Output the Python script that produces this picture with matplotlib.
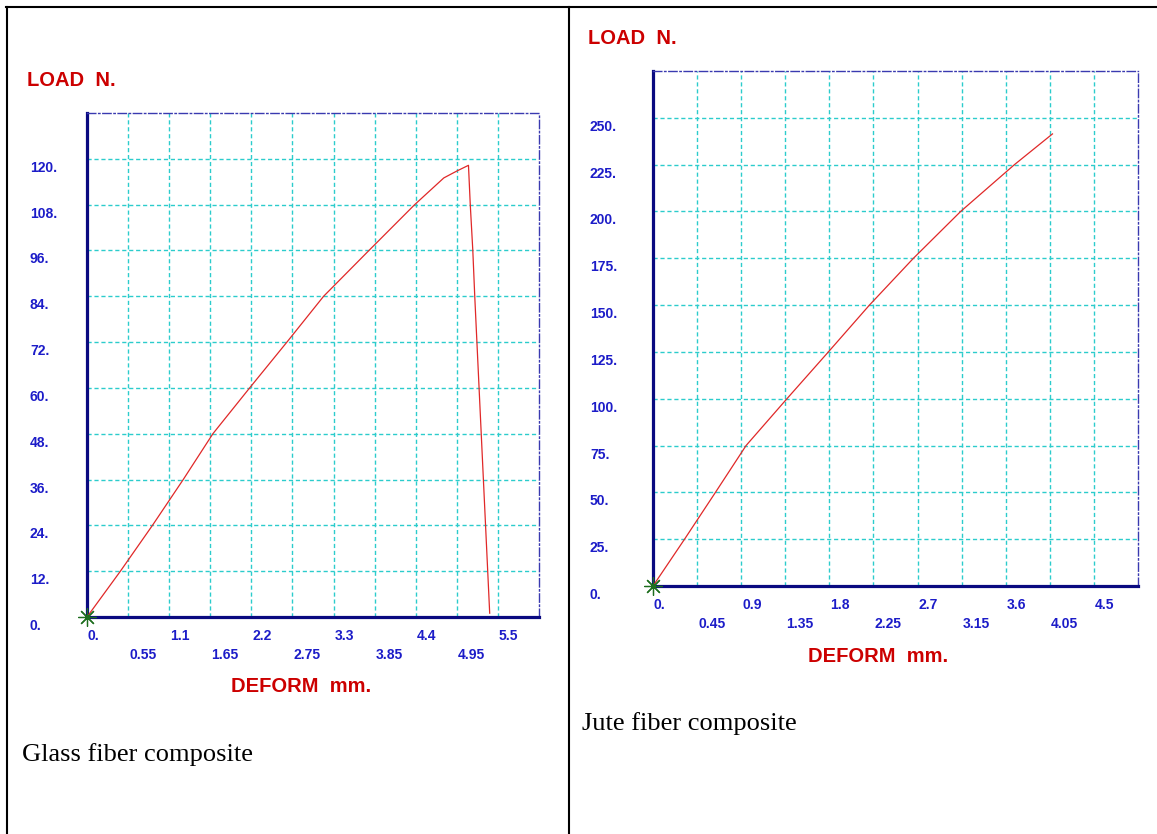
import matplotlib.pyplot as plt
from matplotlib.lines import Line2D

# glass fibre composite: load vs deformation
glass_deform = [0, 0.447, 0.876, 1.288, 1.685, 2.177, 2.676, 3.167, 3.774,
                4.386, 4.776, 4.95, 5.106, 5.13, 5.164, 5.19, 5.39]
glass_load = [0, 12, 24, 36, 48, 60, 72, 84, 96,
              108, 115.0, 116.8, 118.3, 108, 96, 84, 1]
glass_xticks = [0, 0.55, 1.1, 1.65, 2.2, 2.75, 3.3, 3.85, 4.4, 4.95, 5.5]
glass_xlabels = ["0.", "0.55", "1.1", "1.65", "2.2", "2.75", "3.3", "3.85", "4.4", "4.95", "5.5"]
glass_yticks = [0, 12, 24, 36, 48, 60, 72, 84, 96, 108, 120]
glass_ylabels = ["0.", "12.", "24.", "36.", "48.", "60.", "72.", "84.", "96.", "108.", "120."]

# jute fibre composite
jute_deform = [0, 0.322, 0.6375, 0.95, 1.367, 1.79, 2.209, 2.658, 3.14, 3.689, 4.077]
jute_load = [0, 25, 50, 75, 100, 125, 150, 175, 200, 225, 241.4]
jute_xticks = [0, 0.45, 0.9, 1.35, 1.8, 2.25, 2.7, 3.15, 3.6, 4.05, 4.5]
jute_xlabels = ["0.", "0.45", "0.9", "1.35", "1.8", "2.25", "2.7", "3.15", "3.6", "4.05", "4.5"]
jute_yticks = [0, 25, 50, 75, 100, 125, 150, 175, 200, 225, 250]
jute_ylabels = ["0.", "25.", "50.", "75.", "100.", "125.", "150.", "175.", "200.", "225.", "250."]

W, H = 1157, 834
fig = plt.figure(figsize=(W / 100, H / 100), dpi=100)

SANS = "Liberation Sans"
SERIF = "Liberation Serif"
AXIS_BLUE = "#0a0a80"
LABEL_BLUE = "#1c1cc8"
TITLE_RED = "#cc0000"


def px_box(left, top, right, bottom):
    return [left / W, 1 - bottom / H, (right - left) / W, (bottom - top) / H]


def draw_panel(box, x, y, xticks, xlabels, yticks, ylabels, xmax, ymax, ylab_x):
    ax = fig.add_axes(px_box(*box))
    ax.set_xlim(0, xmax)
    ax.set_ylim(0, ymax)
    ax.set_xticks(xticks)
    ax.set_yticks(yticks)
    ax.tick_params(length=0, labelbottom=False, labelleft=False)
    ax.set_axisbelow(True)
    ax.grid(True, color="#2ccccc", linestyle=(0, (3, 2)), linewidth=1.0)

    for side in ("left", "bottom"):
        ax.spines[side].set_color(AXIS_BLUE)
        ax.spines[side].set_linewidth(2.3)
    for side in ("top", "right"):
        ax.spines[side].set_color("#3a3ab0")
        ax.spines[side].set_linewidth(1.0)
        ax.spines[side].set_linestyle((0, (6, 2, 1, 2)))

    ax.plot(x, y, color="#e02828", linewidth=0.9, zorder=3)
    ax.plot([x[0]], [y[0]], marker=(8, 2, 0), markersize=13, color="#1e6e1e",
            markeredgewidth=0.9, clip_on=False, zorder=5)

    # x labels in two staggered rows, left edge on the grid line
    for i, (t, lbl) in enumerate(zip(xticks, xlabels)):
        dy = -19 if i % 2 == 0 else -38
        ax.annotate(lbl, xy=(t, 0), xycoords="data", xytext=(1, dy),
                    textcoords="offset pixels", ha="left", va="center",
                    fontsize=10, fontweight="bold", family=SANS,
                    color=LABEL_BLUE, annotation_clip=False)

    # y labels sit a little below their grid line, left aligned
    for t, lbl in zip(yticks, ylabels):
        ax.annotate(lbl, xy=(ylab_x, t), xycoords=("figure pixels", "data"),
                    xytext=(0, -9), textcoords="offset pixels",
                    ha="left", va="center", fontsize=10, fontweight="bold",
                    family=SANS, color=LABEL_BLUE, annotation_clip=False)
    return ax


draw_panel((87, 113, 539, 617), glass_deform, glass_load, glass_xticks, glass_xlabels,
           glass_yticks, glass_ylabels, 6.05, 132, 30)
draw_panel((653, 71, 1138, 586), jute_deform, jute_load, jute_xticks, jute_xlabels,
           jute_yticks, jute_ylabels, 4.95, 275, 590)


def fig_text(px, py, s, **kw):
    fig.text(px / W, 1 - py / H, s, **kw)


title_kw = dict(fontsize=14.5, fontweight="bold", family=SANS, color=TITLE_RED,
                ha="left", va="center")
fig_text(27, 81, "LOAD  N.", **title_kw)
fig_text(588, 39, "LOAD  N.", **title_kw)
fig_text(231, 687, "DEFORM  mm.", **title_kw)
fig_text(808, 657, "DEFORM  mm.", **title_kw)

cap_kw = dict(fontsize=19, family=SERIF, color="black", ha="left", va="baseline")
fig_text(22, 761, "Glass fiber composite", **cap_kw)
fig_text(582, 730, "Jute fiber composite", **cap_kw)

# table borders around the two cells
for xs, ys in [((6, W), (7, 7)), ((7, 7), (7, H)), ((569, 569), (7, H))]:
    fig.add_artist(Line2D([xs[0] / W, xs[1] / W], [1 - ys[0] / H, 1 - ys[1] / H],
                          transform=fig.transFigure, color="black", linewidth=1.5))

fig.savefig("out.png", dpi=100)
